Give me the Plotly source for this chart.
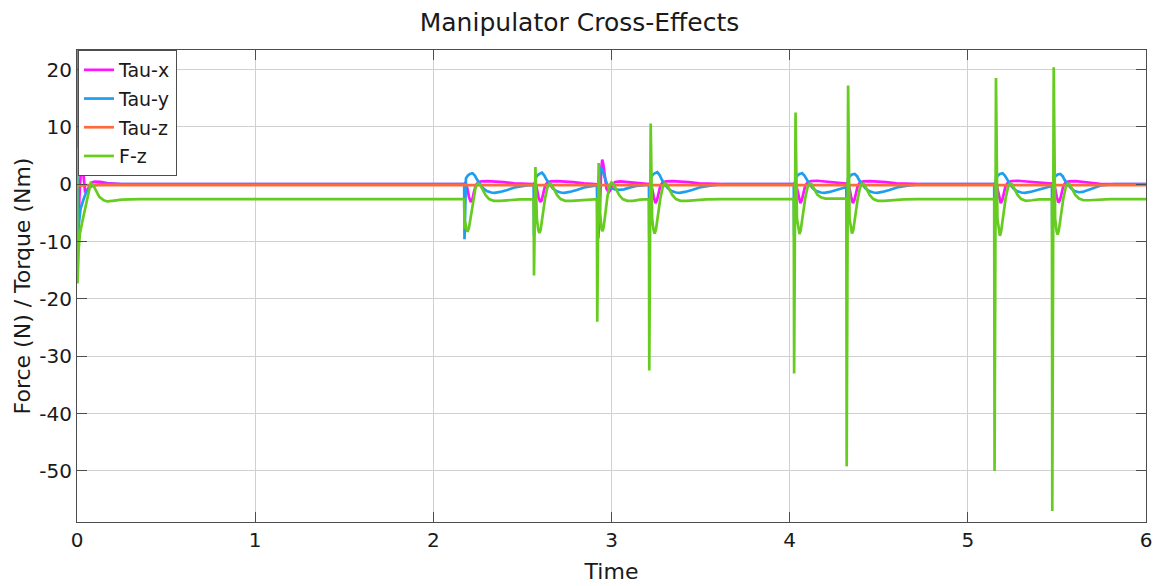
import plotly.graph_objects as go

# ---- data: time samples and values per signal ----
tau_x_t = [0, 0.008, 0.014, 0.02, 0.026, 0.032, 0.038, 0.045, 0.055, 0.07, 0.085, 0.1, 0.13, 0.17, 0.25,
           2.173, 2.181, 2.19, 2.2, 2.21, 2.218, 2.227, 2.237, 2.25, 2.27, 2.305, 2.345, 2.395, 2.455, 2.525,
           2.563, 2.571, 2.58, 2.59, 2.6, 2.608, 2.617, 2.627, 2.64, 2.66, 2.695, 2.735, 2.785, 2.845, 2.918,
           2.92, 2.926, 2.934, 2.942, 2.948, 2.954, 2.962, 2.972, 2.985, 2.995, 3.005, 3.02, 3.05, 3.09, 3.14, 3.21,
           3.212, 3.218, 3.227, 3.237, 3.247, 3.255, 3.264, 3.274, 3.287, 3.307, 3.342, 3.382, 3.432, 3.492, 3.562, 3.632,
           4.023, 4.031, 4.04, 4.05, 4.06, 4.068, 4.077, 4.087, 4.1, 4.12, 4.155, 4.195, 4.245, 4.3, 4.318,
           4.326, 4.335, 4.345, 4.355, 4.363, 4.372, 4.382, 4.395, 4.415, 4.45, 4.49, 4.54, 4.6, 4.67, 4.74,
           5.148, 5.156, 5.165, 5.175, 5.185, 5.193, 5.202, 5.212, 5.225, 5.245, 5.28, 5.32, 5.37, 5.43, 5.472,
           5.48, 5.489, 5.499, 5.509, 5.517, 5.526, 5.536, 5.549, 5.569, 5.604, 5.644, 5.69, 5.74, 5.8, 6.0]
tau_x_v = [0, -7.5, -2, 3.0, 4.8, 3.0, 0.5, -1.2, -1.1, -0.3, 0.3, 0.45, 0.4, 0.2, 0,
           0, 0.3, -0.6, -2.2, -3.1, -2.8, -1.5, -0.3, 0.3, 0.5, 0.55, 0.5, 0.35, 0.15, 0.05,
           0, 0.3, -0.6, -2.2, -3.1, -2.8, -1.5, -0.3, 0.3, 0.5, 0.55, 0.5, 0.35, 0.15, 0.05,
           0, -9.4, -5, 2.5, 4.3, 3.5, 1.0, -0.8, -1.4, -1.0, -0.2, 0.4, 0.5, 0.4, 0.2, 0.05,
           0, 0.3, -0.6, -2.2, -3.3, -2.8, -1.5, -0.3, 0.3, 0.5, 0.55, 0.5, 0.35, 0.15, 0.05, 0,
           0, 0.3, -0.6, -2.2, -3.3, -2.8, -1.5, -0.3, 0.3, 0.55, 0.6, 0.5, 0.35, 0.15, 0.1,
           0.3, -0.6, -2.2, -3.3, -2.8, -1.5, -0.3, 0.3, 0.5, 0.55, 0.5, 0.35, 0.15, 0.05, 0,
           0, 0.3, -0.6, -2.2, -3.3, -2.8, -1.5, -0.3, 0.3, 0.55, 0.6, 0.5, 0.35, 0.15, 0.1,
           0.3, -0.6, -2.2, -3.2, -2.8, -1.5, -0.3, 0.3, 0.5, 0.55, 0.45, 0.25, 0.05, 0, 0]

tau_y_t = [0, 0.004, 0.01, 0.02, 0.035, 0.05, 0.073, 0.1, 0.15,
           2.173, 2.175, 2.183, 2.193, 2.205, 2.22, 2.233, 2.245, 2.262, 2.28, 2.3, 2.325, 2.345, 2.375, 2.415, 2.465, 2.525,
           2.563, 2.565, 2.573, 2.583, 2.595, 2.61, 2.623, 2.635, 2.652, 2.67, 2.69, 2.715, 2.735, 2.765, 2.805, 2.855, 2.915,
           2.918, 2.922, 2.928, 2.934, 2.94, 2.948, 2.96, 2.975, 2.995, 3.02, 3.045, 3.07, 3.1, 3.14, 3.21,
           3.212, 3.22, 3.23, 3.242, 3.257, 3.27, 3.282, 3.299, 3.317, 3.337, 3.362, 3.382, 3.412, 3.452, 3.502, 3.562, 3.632,
           4.023, 4.025, 4.033, 4.043, 4.055, 4.07, 4.083, 4.095, 4.112, 4.13, 4.15, 4.175, 4.195, 4.225, 4.265, 4.318,
           4.32, 4.328, 4.338, 4.35, 4.365, 4.378, 4.39, 4.407, 4.425, 4.445, 4.47, 4.49, 4.52, 4.56, 4.61, 4.67, 4.74,
           5.148, 5.15, 5.158, 5.168, 5.18, 5.195, 5.208, 5.22, 5.237, 5.255, 5.275, 5.3, 5.32, 5.35, 5.39, 5.44, 5.472,
           5.474, 5.482, 5.492, 5.504, 5.519, 5.532, 5.544, 5.561, 5.579, 5.599, 5.624, 5.644, 5.674, 5.714, 5.75, 5.82, 6.0]
tau_y_v = [23.4, -11.2, -7, -4.3, -2.8, -1.5, -0.5, -0.15, 0,
           0, -9.6, 1.0, 1.5, 1.8, 1.9, 1.5, 0.8, 0, -0.7, -1.2, -1.45, -1.5, -1.35, -1.0, -0.5, -0.2,
           -0.1, -9.0, 1.0, 1.5, 1.8, 2.0, 1.5, 0.8, 0, -0.7, -1.2, -1.45, -1.5, -1.35, -1.0, -0.5, -0.2,
           -0.2, -8.0, 1.0, 2.6, 3.0, 2.5, 1.2, 0, -0.6, -0.9, -1.0, -0.9, -0.6, -0.3, -0.1,
           -9.0, 1.0, 1.6, 1.9, 2.1, 1.6, 0.8, 0, -0.7, -1.2, -1.45, -1.5, -1.35, -1.0, -0.5, -0.2, 0,
           0, -9.0, 1.0, 1.5, 1.8, 1.9, 1.5, 0.8, 0, -0.7, -1.2, -1.45, -1.5, -1.35, -1.0, -0.5,
           -9.0, 1.0, 1.4, 1.7, 1.8, 1.4, 0.7, 0, -0.7, -1.2, -1.45, -1.5, -1.35, -1.0, -0.5, -0.2, 0,
           0, -9.0, 1.0, 1.5, 1.8, 1.9, 1.5, 0.8, 0, -0.7, -1.2, -1.45, -1.5, -1.35, -1.0, -0.5, -0.3,
           -9.0, 1.0, 1.4, 1.7, 1.8, 1.4, 0.7, 0, -0.7, -1.2, -1.4, -1.35, -1.0, -0.5, -0.2, 0, 0]

tau_z_t = [0, 0.05, 2.0, 4.0, 6.0]
tau_z_v = [-0.3, -0.15, -0.15, -0.15, -0.15]

f_z_t = [0, 0.003, 0.01, 0.017, 0.03, 0.045, 0.06, 0.077, 0.09, 0.105, 0.125, 0.15, 0.17, 0.2, 0.25, 0.35,
         2.173, 2.175, 2.178, 2.185, 2.192, 2.2, 2.212, 2.225, 2.237, 2.249, 2.26, 2.275, 2.293, 2.313, 2.338,
         2.375, 2.415, 2.485, 2.563,
         2.565, 2.573, 2.581, 2.589, 2.595, 2.602, 2.613, 2.627, 2.64, 2.652, 2.662, 2.677, 2.695, 2.715, 2.74,
         2.775, 2.815, 2.885, 2.918,
         2.92, 2.928, 2.936, 2.944, 2.95, 2.956, 2.966, 2.978, 2.99, 3.0, 3.01, 3.025, 3.043, 3.063, 3.088,
         3.12, 3.16, 3.21,
         3.212, 3.22, 3.228, 3.236, 3.242, 3.249, 3.26, 3.274, 3.287, 3.299, 3.309, 3.324, 3.342, 3.362, 3.387,
         3.422, 3.462, 3.532, 3.62, 4.023,
         4.025, 4.033, 4.041, 4.049, 4.055, 4.062, 4.073, 4.087, 4.1, 4.112, 4.122, 4.137, 4.155, 4.175, 4.2,
         4.24, 4.28, 4.318,
         4.32, 4.328, 4.336, 4.344, 4.35, 4.357, 4.368, 4.382, 4.395, 4.407, 4.417, 4.432, 4.45, 4.47, 4.495,
         4.53, 4.57, 4.64, 4.72, 5.148,
         5.15, 5.158, 5.166, 5.174, 5.18, 5.187, 5.198, 5.212, 5.225, 5.237, 5.247, 5.262, 5.28, 5.3, 5.325,
         5.36, 5.4, 5.472,
         5.474, 5.482, 5.49, 5.498, 5.504, 5.511, 5.522, 5.536, 5.549, 5.561, 5.571, 5.586, 5.604, 5.624, 5.649,
         5.68, 5.72, 5.8, 6.0]
f_z_v = [6.4, -17.3, -11, -8.5, -6.5, -4.5, -2, 0.2, -0.1, -1.0, -2.2, -2.8, -3.0, -2.9, -2.7, -2.6,
         -2.6, -7.8, -6.5, -7.6, -8.3, -7.6, -5.3, -2.5, -0.6, 0.1, 0.0, -0.8, -1.9, -2.6, -2.9,
         -2.9, -2.8, -2.65, -2.6,
         -15.9, 3.0, -6, -8.0, -8.5, -8.0, -5.5, -2.5, -0.6, 0.1, 0.0, -0.8, -1.9, -2.6, -2.9,
         -2.9, -2.8, -2.65, -2.6,
         -24.0, 3.7, -5, -7.8, -8.2, -7.5, -5, -2, -0.2, 0.3, 0.1, -0.8, -1.9, -2.6, -2.9,
         -2.9, -2.7, -2.6,
         -32.5, 10.6, -6, -8.0, -8.6, -8.0, -5.5, -2.5, -0.6, 0.1, 0.0, -0.8, -1.9, -2.6, -2.9,
         -2.9, -2.8, -2.65, -2.6, -2.6,
         -33.0, 12.5, -6, -8.0, -8.7, -8.0, -5.5, -2.5, -0.6, 0.1, 0.0, -0.8, -1.8, -2.3, -2.5,
         -2.5, -2.5, -2.5,
         -49.2, 17.2, -6, -8.0, -8.6, -8.0, -5.5, -2.5, -0.6, 0.1, 0.0, -0.8, -1.9, -2.6, -2.9,
         -2.9, -2.8, -2.65, -2.6, -2.6,
         -50.0, 18.5, -6, -8.3, -9.0, -8.2, -5.5, -2.5, -0.6, 0.1, 0.0, -0.8, -1.9, -2.6, -2.9,
         -2.8, -2.65, -2.6,
         -57.0, 20.4, -6, -8.2, -8.8, -8.0, -5.5, -2.5, -0.6, 0.1, 0.0, -0.8, -1.9, -2.5, -2.8,
         -2.8, -2.7, -2.6, -2.6]

series_names = ["Tau-x", "Tau-y", "Tau-z", "F-z"]
series_colors = ["#ff14ff", "#1e9ef0", "#ff6a3d", "#66cc1f"]

x_ticks = [0, 1, 2, 3, 4, 5, 6]
y_ticks = [20, 10, 0, -10, -20, -30, -40, -50]
y_tick_text = ["20", "10", "0", "-10", "-20", "-30", "-40", "-50"]

FONT = "DejaVu Sans"
INK = "#1a1a1a"

fig = go.Figure()
for name, color, t, v in zip(series_names, series_colors,
                             [tau_x_t, tau_y_t, tau_z_t, f_z_t],
                             [tau_x_v, tau_y_v, tau_z_v, f_z_v]):
    fig.add_trace(go.Scatter(x=t, y=v, mode="lines", name=name, legendgroup=name,
                             line=dict(color=color, width=2.7)))

axis_common = dict(
    showline=True, linecolor="#4d4d4d", linewidth=1, mirror="ticks",
    ticks="inside", ticklen=10, tickcolor="#4d4d4d", tickwidth=1,
    showgrid=True, gridcolor="#d0d0d0", gridwidth=1, zeroline=False,
    automargin=False,
    tickfont=dict(family=FONT, size=20, color=INK),
)

fig.update_layout(
    width=1159, height=586, autosize=False,
    margin=dict(l=77, r=13, t=50, b=64),
    plot_bgcolor="white", paper_bgcolor="white",
    title=dict(text="Manipulator Cross-Effects", x=0.5, xref="container",
               y=1 - 22 / 586, yref="container", xanchor="center", yanchor="middle",
               automargin=False,
               font=dict(family=FONT, size=25, color=INK)),
    xaxis=dict(range=[0, 6], tickvals=x_ticks, **axis_common,
               title=dict(text="Time", font=dict(family=FONT, size=22, color=INK), standoff=12)),
    yaxis=dict(range=[-58.9, 23.4], tickvals=y_ticks, ticktext=y_tick_text, **axis_common,
               title=dict(text="Force (N) / Torque (Nm)",
                          font=dict(family=FONT, size=22, color=INK), standoff=2)),
    legend=dict(x=0.0009, y=1, xanchor="left", yanchor="top",
                bgcolor="white", bordercolor="#4d4d4d", borderwidth=1,
                font=dict(family=FONT, size=19, color=INK),
                tracegroupgap=1, traceorder="grouped"),
    showlegend=True,
)

fig.write_html("out.html")
